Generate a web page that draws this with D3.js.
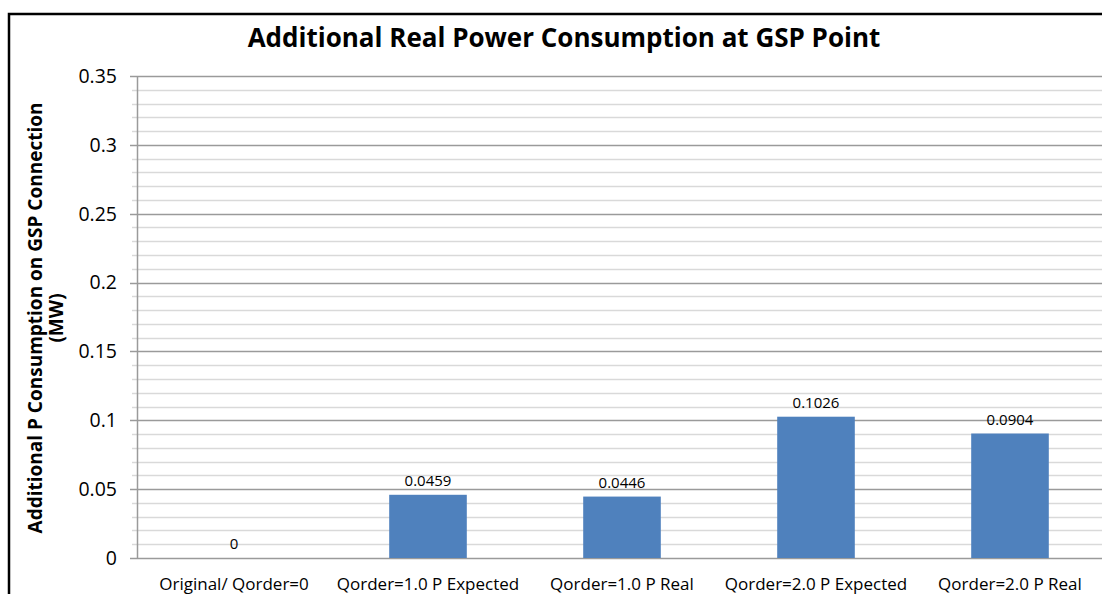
<!DOCTYPE html>
<html>
<head>
<meta charset="utf-8">
<script src="https://cdn.jsdelivr.net/npm/d3@7"></script>
<style>
  body { margin: 0; background: #fff; overflow: hidden; }
  svg { display: block; font-family: "Open Sans", "Noto Sans", sans-serif; }
</style>
</head>
<body>
<svg id="chart"></svg>
<script>
// Chart data
const categories = ['Original/ Qorder=0', 'Qorder=1.0 P Expected', 'Qorder=1.0 P Real', 'Qorder=2.0 P Expected', 'Qorder=2.0 P Real'];
const values = [0, 0.0459, 0.0446, 0.1026, 0.0904];
const valueLabels = ['0', '0.0459', '0.0446', '0.1026', '0.0904'];
const majorTicks = [0, 0.05, 0.1, 0.15, 0.2, 0.25, 0.3, 0.35];
const tickLabels = ['0', '0.05', '0.1', '0.15', '0.2', '0.25', '0.3', '0.35'];

const config = {
  width: 1102,
  height: 594,
  plot: { left: 137, right: 1107, top: 76, bottom: 558 },
  barColor: '#4f81bd'
};

const svg = d3.select('#chart')
    .attr('width', config.width)
    .attr('height', config.height);

// outer frame
svg.append('rect')
    .attr('x', 9).attr('y', 14)
    .attr('width', 1200).attr('height', 700)
    .attr('fill', '#fff')
    .attr('stroke', '#000')
    .attr('stroke-width', 2.5);

const xScale = d3.scaleBand()
    .domain(categories)
    .range([config.plot.left, config.plot.right]);

const yScale = d3.scaleLinear()
    .domain([0, 0.35])
    .range([config.plot.bottom, config.plot.top]);

// minor grid every 0.01
const minorTicks = d3.range(0, 36).map(i => i / 100);

svg.append('g')
    .selectAll('line')
    .data(minorTicks.filter(t => Math.round(t * 100) % 5 !== 0))
    .join('line')
    .attr('x1', config.plot.left - 5)
    .attr('x2', config.plot.right)
    .attr('y1', d => Math.round(yScale(d)) + 0.5)
    .attr('y2', d => Math.round(yScale(d)) + 0.5)
    .attr('stroke', '#d9d9d9')
    .attr('stroke-width', 1.5);

svg.append('g')
    .selectAll('line')
    .data(majorTicks)
    .join('line')
    .attr('x1', config.plot.left - 7)
    .attr('x2', config.plot.right)
    .attr('y1', d => Math.round(yScale(d)) + 0.5)
    .attr('y2', d => Math.round(yScale(d)) + 0.5)
    .attr('stroke', '#9a9a9a')
    .attr('stroke-width', 1.5);

// y axis line
svg.append('line')
    .attr('x1', config.plot.left + 0.5).attr('x2', config.plot.left + 0.5)
    .attr('y1', config.plot.top).attr('y2', config.plot.bottom)
    .attr('stroke', '#9a9a9a')
    .attr('stroke-width', 1.5);

// y tick labels
svg.append('g')
    .selectAll('text')
    .data(majorTicks)
    .join('text')
    .attr('x', 117)
    .attr('y', d => yScale(d))
    .attr('dy', '0.35em')
    .attr('text-anchor', 'end')
    .style('font-size', '19.5px')
    .text((d, i) => tickLabels[i]);

// bars
const barW = xScale.bandwidth() * 0.4;
svg.append('g')
    .selectAll('rect')
    .data(values)
    .join('rect')
    .attr('x', (d, i) => xScale(categories[i]) + (xScale.bandwidth() - barW) / 2)
    .attr('y', d => yScale(d))
    .attr('width', barW)
    .attr('height', d => yScale(0) - yScale(d))
    .attr('fill', config.barColor);

// value labels
svg.append('g')
    .selectAll('text')
    .data(values)
    .join('text')
    .attr('x', (d, i) => xScale(categories[i]) + xScale.bandwidth() / 2)
    .attr('y', d => yScale(d) - 9)
    .attr('text-anchor', 'middle')
    .style('font-size', '15px')
    .text((d, i) => valueLabels[i]);

// category labels
svg.append('g')
    .selectAll('text')
    .data(categories)
    .join('text')
    .attr('x', d => xScale(d) + xScale.bandwidth() / 2)
    .attr('y', 590)
    .attr('text-anchor', 'middle')
    .style('font-size', '17px')
    .text(d => d);

// title
svg.append('text')
    .attr('x', 564)
    .attr('y', 47)
    .attr('text-anchor', 'middle')
    .style('font-size', '26px')
    .style('font-weight', 'bold')
    .text('Additional Real Power Consumption at GSP Point');

// y axis title
const yTitle = svg.append('text')
    .attr('transform', 'translate(42,318) rotate(-90)')
    .attr('text-anchor', 'middle')
    .style('font-size', '19px')
    .style('font-weight', 'bold');
yTitle.append('tspan').attr('x', 0).attr('y', 0).text('Additional P Consumption on GSP Connection');
yTitle.append('tspan').attr('x', 0).attr('y', 21).text('(MW)');
</script>
</body>
</html>
